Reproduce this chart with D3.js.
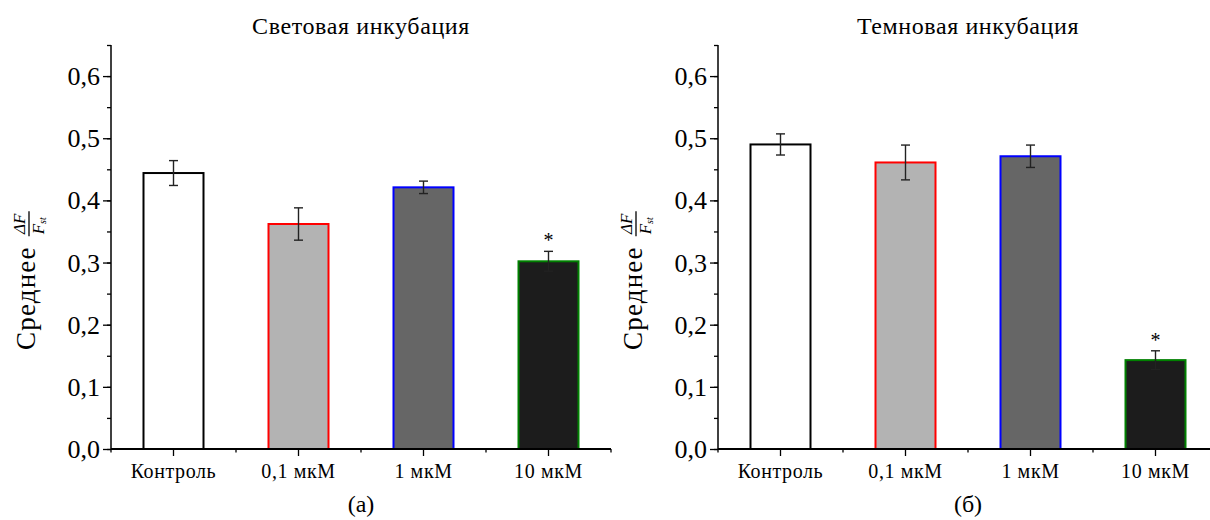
<!DOCTYPE html>
<html>
<head>
<meta charset="utf-8">
<script src="https://cdnjs.cloudflare.com/ajax/libs/d3/7.8.5/d3.min.js"></script>
</head>
<body style="margin:0;background:#fff">
<svg id="chart" width="1210" height="520" style="display:block"></svg>
<script>
// Categories and measured means with error half-widths
const categories = ["Контроль", "0,1 мкМ", "1 мкМ", "10 мкМ"];
const lightMeans = [0.444, 0.362, 0.421, 0.302];
const lightErrors = [0.020, 0.026, 0.010, 0.016];
const lightSignificant = [false, false, false, true];
const darkMeans = [0.490, 0.461, 0.471, 0.143];
const darkErrors = [0.017, 0.028, 0.018, 0.015];
const darkSignificant = [false, false, false, true];
const yTickValues = [0, 0.1, 0.2, 0.3, 0.4, 0.5, 0.6];
const yTickLabels = ["0,0", "0,1", "0,2", "0,3", "0,4", "0,5", "0,6"];
const panelTitles = ["Световая инкубация", "Темновая инкубация"];
const panelLetters = ["(а)", "(б)"];

const fills = ["#ffffff", "#b3b3b3", "#666666", "#1c1c1c"];
const strokes = ["#000000", "#ff0000", "#0000ff", "#008000"];

const svg = d3.select("#chart");
const FONT = '"Liberation Serif"';

// every text element is placed straight on the svg root
function label(x, y, size, str, anchor) {
  return svg.append("text").attr("x", x).attr("y", y)
    .style("font-family", FONT).style("font-size", size + "px")
    .attr("text-anchor", anchor || "middle").text(str);
}

function drawPanel(originX, means, errors, significant, title, letter) {
  const top = 45, bottom = 449, width = 500;
  const g = svg.append("g");

  const x = d3.scaleBand().domain(categories).range([originX, originX + width]);
  const y = d3.scaleLinear().domain([0, 0.65]).range([bottom, top]);
  const barW = 60;
  const cxOf = d => x(d) + x.bandwidth() / 2;

  // bars
  g.selectAll("rect.bar").data(categories).join("rect")
    .attr("class", "bar")
    .attr("x", d => cxOf(d) - barW / 2)
    .attr("y", (d, i) => y(means[i]))
    .attr("width", barW)
    .attr("height", (d, i) => y(0) - y(means[i]))
    .attr("fill", (d, i) => fills[i])
    .attr("stroke", (d, i) => strokes[i])
    .attr("stroke-width", 2);

  // error bars
  const eb = g.selectAll("g.err").data(categories).join("g").attr("class", "err")
    .attr("transform", d => `translate(${cxOf(d)},0)`);
  eb.append("line")
    .attr("y1", (d, i) => y(means[i] + errors[i]))
    .attr("y2", (d, i) => y(means[i] - errors[i]))
    .attr("stroke", "#222").attr("stroke-width", 1.4);
  [1, -1].forEach(s => {
    eb.append("line")
      .attr("x1", -4.5).attr("x2", 4.5)
      .attr("y1", (d, i) => y(means[i] + s * errors[i]))
      .attr("y2", (d, i) => y(means[i] + s * errors[i]))
      .attr("stroke", "#222").attr("stroke-width", 1.4);
  });

  // y axis: minor ticks every 0.05, major every 0.1
  const minor = d3.range(0, 0.6501, 0.05);
  g.append("g").attr("transform", `translate(${originX},0)`)
    .call(d3.axisLeft(y).tickValues(minor).tickSize(4).tickFormat(""))
    .call(a => a.select(".domain").remove())
    .selectAll("line").attr("stroke-width", 1.3);
  const ya = g.append("g").attr("transform", `translate(${originX},0)`)
    .call(d3.axisLeft(y).tickValues(yTickValues).tickSize(8).tickFormat(""));
  ya.select(".domain").attr("d", `M0,${top}V${bottom}`).attr("stroke-width", 1.5);
  ya.selectAll("line").attr("stroke-width", 1.3);

  // x axis with category ticks and short boundary ticks
  const xa = g.append("g").attr("transform", `translate(0,${bottom})`)
    .call(d3.axisBottom(x).tickSize(7).tickFormat(""));
  xa.select(".domain").attr("d", `M${originX},0H${originX + width}`).attr("stroke-width", 2);
  xa.selectAll("line").attr("stroke-width", 1.3);
  const bounds = categories.map(d => x(d)).concat([originX + width]);
  xa.selectAll("line.minor").data(bounds).join("line").attr("class", "minor")
    .attr("x1", d => d).attr("x2", d => d).attr("y1", 0).attr("y2", 3.5)
    .attr("stroke", "#000").attr("stroke-width", 1.3);

  // tick labels
  yTickValues.forEach((v, i) => label(originX - 11, y(v) + 9, 26, yTickLabels[i], "end"));
  categories.forEach(d => label(cxOf(d), bottom + 29, 20, d).attr("letter-spacing", 0.6));

  // significance asterisks
  categories.forEach((d, i) => {
    if (significant[i]) label(cxOf(d), y(means[i] + errors[i]) - 4, 20, "*");
  });

  // title and panel letter
  const cx = originX + width / 2;
  label(cx, 34, 24, title).attr("letter-spacing", 0.6);
  label(cx, 512, 24, letter);

  // y label: "Среднее" followed by ΔF / F_st fraction, rotated
  const lx = originX - 76, ly = 350;
  const word = label(lx, ly, 27, "Среднее", "start").attr("letter-spacing", 1.2)
    .attr("transform", `rotate(-90,${lx},${ly})`);
  const w = word.node().getComputedTextLength();
  const fw = 25, f0 = ly - w - 10;
  label(lx - 10, f0 - fw / 2, 17, "ΔF").style("font-style", "italic")
    .attr("x", lx - 10).attr("y", f0 - fw / 2)
    .attr("transform", `rotate(-90,${lx - 10},${f0 - fw / 2})`)
    .attr("dominant-baseline", "auto");
  svg.append("line").attr("x1", lx - 6).attr("x2", lx - 6).attr("y1", f0).attr("y2", f0 - fw)
    .attr("stroke", "#000").attr("stroke-width", 1.3);
  const den = label(lx + 9, f0 - 2, 17, "", "start").style("font-style", "italic")
    .attr("transform", `rotate(-90,${lx + 9},${f0 - 2})`);
  den.append("tspan").text("F");
  den.append("tspan").attr("dy", 2).style("font-size", "10px").text("st");
}

drawPanel(111, lightMeans, lightErrors, lightSignificant, panelTitles[0], panelLetters[0]);
drawPanel(718, darkMeans, darkErrors, darkSignificant, panelTitles[1], panelLetters[1]);
</script>
</body>
</html>
